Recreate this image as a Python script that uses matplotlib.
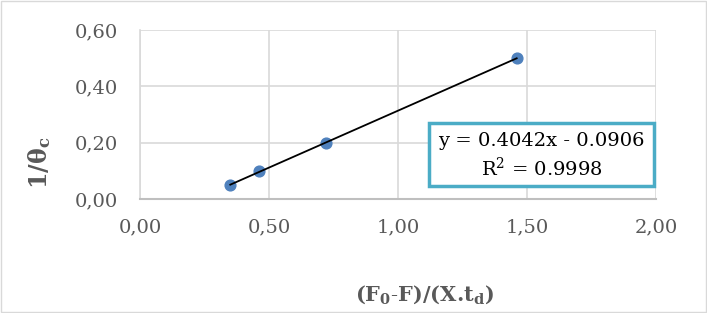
import matplotlib.pyplot as plt
import numpy as np

plt.rcParams['font.family'] = ['DejaVu Serif']
plt.rcParams['mathtext.fontset'] = 'custom'
plt.rcParams['mathtext.rm'] = 'DejaVu Serif'
plt.rcParams['mathtext.it'] = 'DejaVu Serif:italic'
plt.rcParams['mathtext.bf'] = 'DejaVu Serif:bold'

x = np.array([0.35, 0.46, 0.72, 1.46])
y = np.array([0.05, 0.10, 0.20, 0.50])
slope, intercept = 0.4042, -0.0906
xticks = [0.0, 0.5, 1.0, 1.5, 2.0]
yticks = [0.0, 0.2, 0.4, 0.6]

W, H = 707, 313
fig = plt.figure(figsize=(W / 100, H / 100), dpi=100)
ax = fig.add_axes([140 / W, 1 - 199 / H, 516 / W, 169 / H])

ax.scatter(x, y, s=60, color="#4F81BD", zorder=3)
xl = np.array([x.min(), x.max()])
ax.plot(xl, slope * xl + intercept, color="black", lw=1.3, zorder=4)

ax.set_xlim(0, 2)
ax.set_ylim(0, 0.6)
ax.set_xticks(xticks)
ax.set_yticks(yticks)
ax.set_xticklabels([f"{v:.2f}".replace(".", ",") for v in xticks])
ax.set_yticklabels([f"{v:.2f}".replace(".", ",") for v in yticks])
ax.tick_params(length=0, labelsize=14, colors="#595959")
ax.tick_params(axis="y", pad=16)
ax.tick_params(axis="x", pad=14)
ax.grid(True, color="#D9D9D9", lw=1.2)
ax.set_axisbelow(True)
for s in ["top", "right"]:
    ax.spines[s].set_visible(False)
ax.spines["left"].set_color("#D9D9D9")
ax.spines["bottom"].set_color("#BFBFBF")
ax.spines["left"].set_linewidth(1.2)
ax.spines["bottom"].set_linewidth(1.5)

fig.text(40 / W, 1 - 163 / H, r"$\mathbf{1/\theta_c}$", rotation=90,
         ha="center", va="center", fontsize=17, color="#595959")
fig.text(425 / W, 1 - 295 / H, r"$\mathbf{(F_0\text{-}F)/(X.\!t_d)}$",
         ha="center", va="center", fontsize=15, color="#595959")

# trendline equation box
fig.patches.append(plt.Rectangle((429 / W, 1 - 186 / H), 225 / W, 63 / H,
                                 transform=fig.transFigure, fc="white",
                                 ec="#4BACC6", lw=2.5, zorder=5))
fig.text(541.5 / W, 1 - 141 / H, "y = 0.4042x - 0.0906", ha="center",
         va="center", fontsize=14, zorder=6)
fig.text(541.5 / W, 1 - 168 / H, "R$^2$ = 0.9998", ha="center",
         va="center", fontsize=14, zorder=6)

fig.patches.append(plt.Rectangle((1 / W, 1 / H), 705 / W, 311 / H,
                                 transform=fig.transFigure, fill=False,
                                 ec="#D9D9D9", lw=1))

fig.savefig("out.png", dpi=100)
